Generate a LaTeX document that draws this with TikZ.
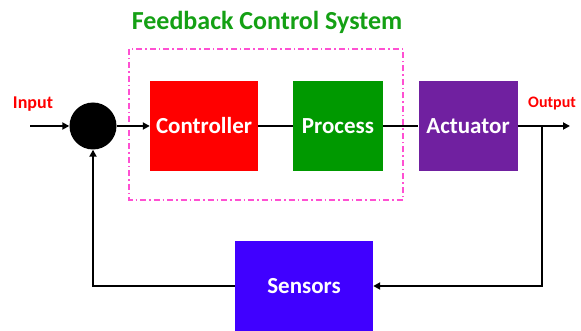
\documentclass[tikz,border=0pt]{standalone}
\usepackage{fontspec}
\setmainfont{Carlito}
\usetikzlibrary{arrows.meta}
\definecolor{ctrlred}{RGB}{255,0,0}
\definecolor{procgreen}{RGB}{0,153,0}
\definecolor{actpurple}{RGB}{112,32,160}
\definecolor{sensblue}{RGB}{64,0,255}
\definecolor{dashpink}{RGB}{255,80,210}
\definecolor{titlegreen}{RGB}{20,160,20}

\begin{document}
\begin{tikzpicture}[x=1pt,y=-1pt,
  block/.style={draw=none,text=white,font=\bfseries\fontsize{23}{26}\selectfont,
    minimum height=90pt,inner sep=0pt},
  lbl/.style={text=red,font=\bfseries\fontsize{18}{20}\selectfont,inner sep=0pt},
  wire/.style={line width=2pt,black},
  arr/.style={wire,-{Triangle[length=7pt,width=7pt]}}]
  \useasboundingbox (0,0) rectangle (581,331);
  \def\ly {126}

  \node (title) at (267,22) [text=titlegreen,font=\bfseries\fontsize{26}{30}\selectfont]{Feedback Control System};
  \draw[dashpink,line width=1.5pt,dash pattern=on 6pt off 3pt on 1.5pt off 3pt] (129,49) rectangle (403,200);

  \node (sum) at (93,\ly) [circle,fill=black,minimum size=47pt,inner sep=0pt]{};
  \node (ctrl) at (204,\ly) [block,fill=ctrlred,minimum width=108pt]{Controller};
  \node (proc) at (338,\ly) [block,fill=procgreen,minimum width=90pt]{Process};
  \node (act) at (468,\ly) [block,fill=actpurple,minimum width=99pt]{Actuator};
  \node (sens) at (304,286) [block,fill=sensblue,minimum width=138pt]{Sensors};

  \node (inlbl) at (33,104) [lbl]{Input};
  \node (outlbl) at (528,104) [lbl,anchor=west,font=\bfseries\fontsize{16}{18}\selectfont]{Output};

  \coordinate (in) at (30,\ly);
  \coordinate (out) at (570,\ly);
  \coordinate (tap) at (542,\ly);
  \coordinate (tapd) at (542,286);
  \coordinate (retc) at (93,286);

  \draw[arr] (in) -- (sum);
  \draw[arr] (sum) -- (ctrl);
  \draw[wire] (ctrl) -- (proc) -- (act);
  \draw[arr] (act) -- (out);
  \draw[arr] (tap) -- (tapd) -- (sens);
  \draw[arr] (sens) -- (retc) -- (sum);

\end{tikzpicture}
\end{document}
